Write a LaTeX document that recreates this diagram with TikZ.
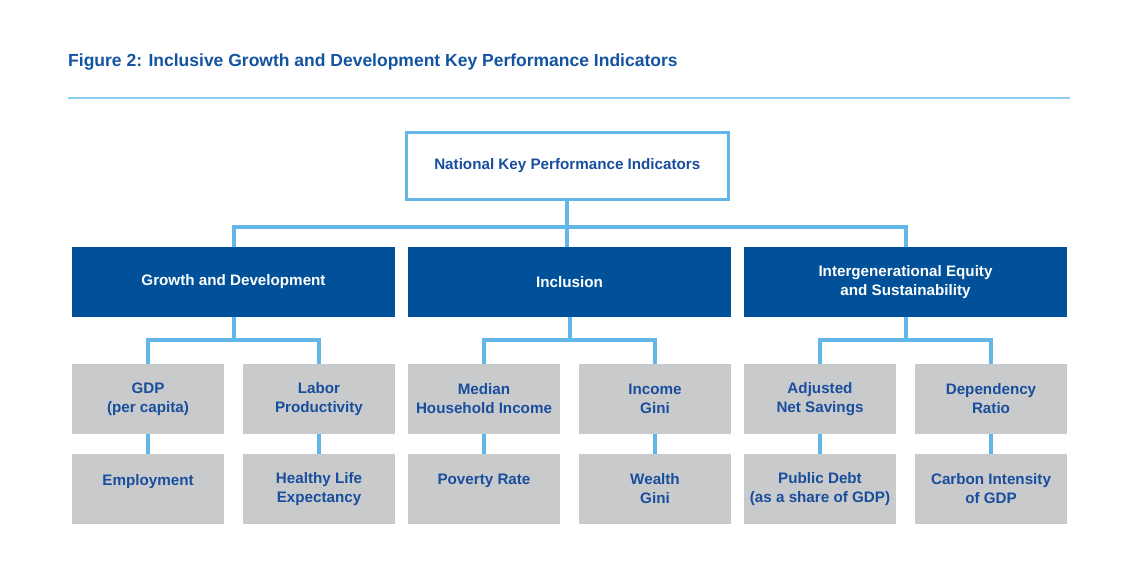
\documentclass[tikz,border=0pt]{standalone}
\usepackage{fontspec}
\setmainfont{Liberation Sans}
\usetikzlibrary{positioning}

\definecolor{titleblue}{RGB}{18,84,160}
\definecolor{lineblue}{RGB}{98,182,232}
\definecolor{rulecol}{RGB}{140,204,240}
\definecolor{darkbox}{RGB}{0,81,154}
\definecolor{graybox}{RGB}{201,202,204}
\definecolor{textblue}{RGB}{24,78,156}

\tikzset{
    boxtext/.style={align=center, font=\fontsize{15.2}{19}\selectfont\bfseries, inner sep=0pt},
    topbox/.style={boxtext, rectangle, draw=lineblue, line width=3pt, fill=white, text=textblue, minimum width=322.5pt, minimum height=67pt},
    bluebox/.style={boxtext, rectangle, fill=darkbox, text=white, minimum width=323pt, minimum height=70pt, outer sep=0pt},
    kpibox/.style={boxtext, rectangle, fill=graybox, text=textblue, minimum width=152pt, minimum height=70pt, outer sep=0pt},
    link/.style={draw=lineblue, line width=4pt}
}

\begin{document}
\begin{tikzpicture}
    \useasboundingbox (0,0) rectangle (1140pt,-564pt);

    \node[anchor=base west, inner sep=0pt, text=titleblue, font=\fontsize{17.5}{20}\selectfont\bfseries] (title) at (68pt,-67pt) {Figure 2: Inclusive Growth and Development Key Performance Indicators};
    \draw[rulecol, line width=2pt] (68pt,-98pt) -- (1070pt,-98pt);

    \node[topbox] (kpi) at (567.3pt,-166pt) {National Key Performance Indicators};

    \node[bluebox] (inc) [below=46pt of kpi, xshift=2.2pt] {Inclusion};
    \node[bluebox] (gd) [left=13pt of inc] {Growth and Development};
    \node[bluebox] (ies) [right=13pt of inc] {Intergenerational Equity\\and Sustainability};

    \node[kpibox] (gdp) [below=47pt of gd, xshift=-85.5pt] {GDP\\(per capita)};
    \node[kpibox] (lab) [right=19pt of gdp] {Labor\\Productivity};
    \node[kpibox] (emp) [below=20pt of gdp] {Employment\\\mbox{}};
    \node[kpibox] (hle) [below=20pt of lab] {Healthy Life\\Expectancy};

    \node[kpibox] (mhi) [below=47pt of inc, xshift=-85.5pt] {Median\\Household Income};
    \node[kpibox] (igini) [right=19pt of mhi] {Income\\Gini};
    \node[kpibox] (pov) [below=20pt of mhi] {Poverty Rate\\\mbox{}};
    \node[kpibox] (wgini) [below=20pt of igini] {Wealth\\Gini};

    \node[kpibox] (ans) [below=47pt of ies, xshift=-85.5pt] {Adjusted\\Net Savings};
    \node[kpibox] (dep) [right=19pt of ans] {Dependency\\Ratio};
    \node[kpibox] (debt) [below=20pt of ans] {Public Debt\\(as a share of GDP)};
    \node[kpibox] (carb) [below=20pt of dep] {Carbon Intensity\\of GDP};

    \draw[link] (kpi.south) -- ++(0,-26pt) -| (gd.north);
    \draw[link] (kpi.south) -- (kpi.south |- inc.north);
    \draw[link] (kpi.south) -- ++(0,-26pt) -| (ies.north);

    \draw[link] (gd.south) -- ++(0,-23pt) -| (gdp.north);
    \draw[link] (gd.south) -- ++(0,-23pt) -| (lab.north);
    \draw[link] (inc.south) -- ++(0,-23pt) -| (mhi.north);
    \draw[link] (inc.south) -- ++(0,-23pt) -| (igini.north);
    \draw[link] (ies.south) -- ++(0,-23pt) -| (ans.north);
    \draw[link] (ies.south) -- ++(0,-23pt) -| (dep.north);

    \draw[link] (gdp.south) -- (emp.north);
    \draw[link] (lab.south) -- (hle.north);
    \draw[link] (mhi.south) -- (pov.north);
    \draw[link] (igini.south) -- (wgini.north);
    \draw[link] (ans.south) -- (debt.north);
    \draw[link] (dep.south) -- (carb.north);
\end{tikzpicture}
\end{document}
